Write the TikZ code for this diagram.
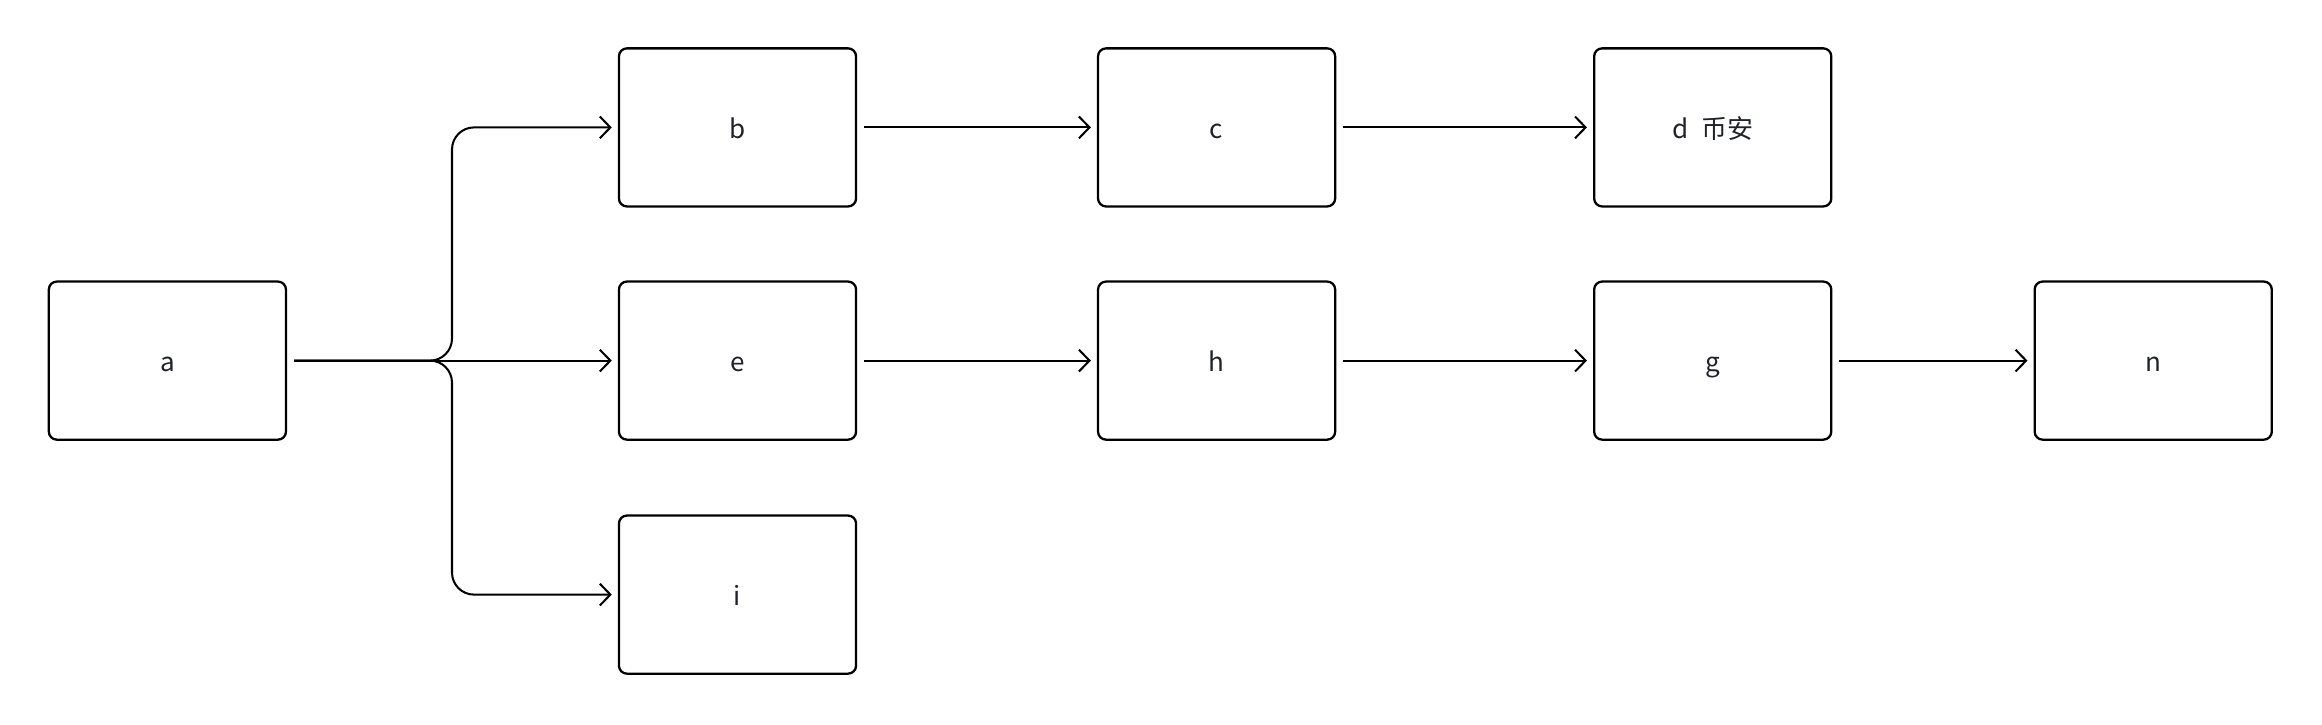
\documentclass[tikz,border=0pt]{standalone}
\usepackage{fontspec}
\setmainfont{Noto Sans CJK SC}
\usetikzlibrary{arrows.meta}
\definecolor{txt}{HTML}{1F2329}
\begin{document}
\begin{tikzpicture}[x=0.01cm,y=-0.01cm,
  box/.style={draw=black,line width=0.65pt,rounded corners=0.08cm,minimum width=2.37cm,minimum height=1.58cm,inner sep=0pt,
    text height=0.78em,text depth=0.16em,
    font=\fontsize{7.4pt}{8.8pt}\selectfont,text=txt},
  conn/.style={draw=black,line width=0.58pt,-{Straight Barb[length=3pt,width=6.2pt,line width=0.58pt]}}]
\useasboundingbox (0,0) rectangle (2322,724);
\node[box] (a) at (167.4,360.6) {a};
\node[box] (b) at (737.5,127.4) {b};
\node[box] (e) at (737.5,360.6) {e};
\node[box] (i) at (737.5,594.6) {i};
\node[box] (c) at (1216.6,127.4) {c};
\node[box] (h) at (1216.6,360.6) {h};
\node[box] (d) at (1712.7,127.4) {d\hspace{0.5em}币安};
\node[box] (g) at (1712.7,360.6) {g};
\node[box] (n) at (2153.2,360.6) {n};
\coordinate (j) at (452,360.6);
\draw[conn,rounded corners=0.22cm] ([xshift=0.07cm]a.east) -- (j) |- ([xshift=-0.06cm]b.west);
\draw[conn,rounded corners=0.22cm] ([xshift=0.07cm]a.east) -- (j) |- ([xshift=-0.06cm]i.west);
\draw[conn] ([xshift=0.07cm]a.east) -- ([xshift=-0.06cm]e.west);
\draw[conn] ([xshift=0.07cm]b.east) -- ([xshift=-0.06cm]c.west);
\draw[conn] ([xshift=0.07cm]c.east) -- ([xshift=-0.06cm]d.west);
\draw[conn] ([xshift=0.07cm]e.east) -- ([xshift=-0.06cm]h.west);
\draw[conn] ([xshift=0.07cm]h.east) -- ([xshift=-0.06cm]g.west);
\draw[conn] ([xshift=0.07cm]g.east) -- ([xshift=-0.06cm]n.west);
\end{tikzpicture}
\end{document}
